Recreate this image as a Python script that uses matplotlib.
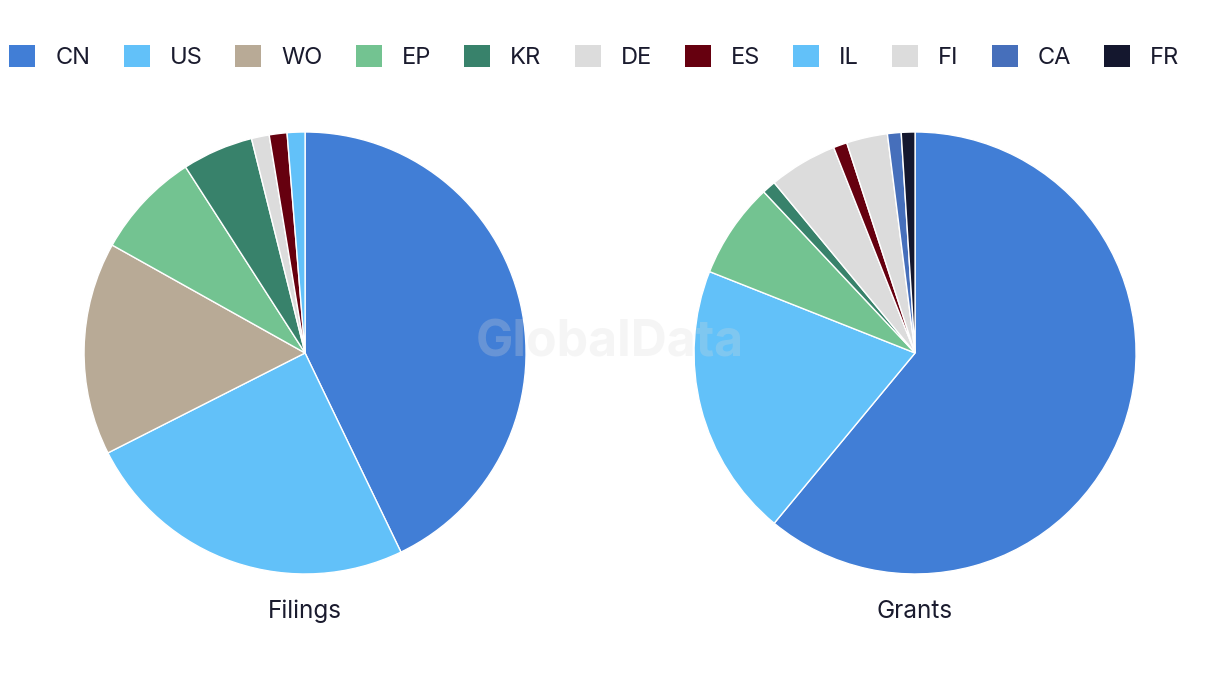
import matplotlib.pyplot as plt
from matplotlib.patches import Patch

plt.rcParams['font.family'] = ['Inter', 'DejaVu Sans']

countries = ['CN', 'US', 'WO', 'EP', 'KR', 'DE', 'ES', 'IL', 'FI', 'CA', 'FR']
colors = ['#417ed6', '#62c1f9', '#b8aa96', '#73c391', '#38826b', '#dcdcdc',
          '#66000f', '#62c1f9', '#dcdcdc', '#466fbb', '#14172e']

# counts read off the wedges (0 = not in that pie)
filings = [33, 19, 12, 6, 4, 1, 1, 1, 0, 0, 0]
grants = [61, 20, 0, 7, 1, 5, 1, 0, 3, 1, 1]
titles = ['Filings', 'Grants']

text_col = '#1a1b2e'

fig = plt.figure(figsize=(12.2, 6.86), dpi=100)

lefts = [0.0689, 0.5689]
for left, vals, title in zip(lefts, [filings, grants], titles):
    ax = fig.add_axes([left, 0.1633, 0.3623, 0.6443])
    keep = [i for i, v in enumerate(vals) if v > 0]
    ax.pie([vals[i] for i in keep], colors=[colors[i] for i in keep],
           startangle=90, counterclock=False, radius=1,
           wedgeprops=dict(edgecolor='white', linewidth=1))
    ax.set_xlim(-1, 1)
    ax.set_ylim(-1, 1)
    ax.set_aspect('equal')
    ax.axis('off')
    fig.text(left + 0.3623 / 2, 0.109, title, ha='center', va='center',
             fontsize=17.5, color=text_col)

handles = [Patch(facecolor=c, edgecolor='none') for c in colors]
fig.legend(handles, countries, ncol=len(countries), loc='center left',
           bbox_to_anchor=(0.0, 0.917), frameon=False, fontsize=17,
           handlelength=1.1, handleheight=1.1, handletextpad=0.85,
           columnspacing=1.40, labelcolor=text_col, borderaxespad=0)

# watermark
fig.text(0.5, 0.5, 'GlobalData', ha='center', va='center', fontsize=36,
         fontweight='bold', color='#d9d9d9', alpha=0.25, zorder=10)

fig.savefig('out.png', dpi=100, facecolor='white')
